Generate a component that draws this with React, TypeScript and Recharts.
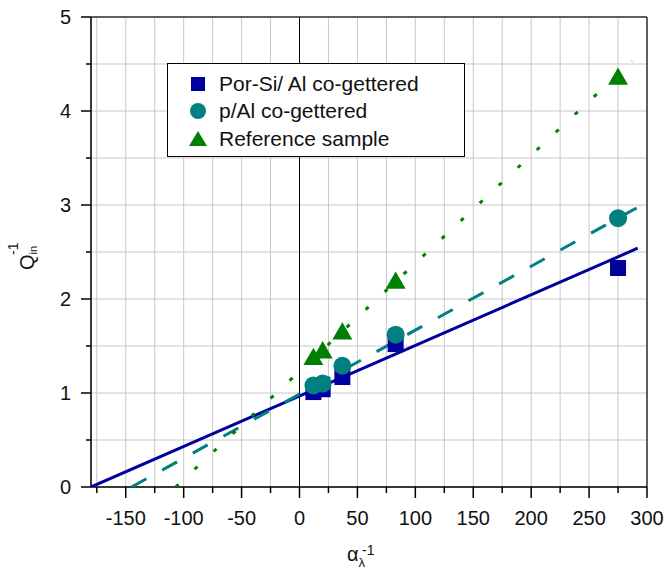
import React from "react";
import {
  ComposedChart,
  Scatter,
  XAxis,
  YAxis,
  CartesianGrid,
  ReferenceLine,
  Legend,
  Label,
} from "recharts";

const NAVY = "#00009c";
const TEAL = "#008080";
const GREEN = "#008000";
const FONT = "'Liberation Sans', Arial, sans-serif";

// inverse absorption length values (x) shared by all samples
const alphaInv = [12, 20, 37, 83, 275];
const porSiAl = [1.01, 1.04, 1.17, 1.52, 2.33];
const pAl = [1.08, 1.1, 1.29, 1.62, 2.86];
const reference = [1.36, 1.43, 1.63, 2.17, 4.34];

// linear fits, end points
const porSiFitX = [-180, 292];
const porSiFitY = [0, 2.54];
const pAlFitX = [-145, 300];
const pAlFitY = [0, 3.03];
const refFitX = [-107, 287];
const refFitY = [0, 4.53];

const xTicks = [
  -175, -150, -125, -100, -75, -50, -25, 0, 25, 50, 75, 100, 125, 150, 175, 200, 225, 250, 275, 300,
];
const yTicks = [0, 0.5, 1, 1.5, 2, 2.5, 3, 3.5, 4, 4.5, 5];

const pts = (xs: number[], ys: number[]) => ys.map((y, i) => ({ x: xs[i], y }));

function XTick({ x, y, payload }: any) {
  const major = payload.value % 50 === 0;
  return (
    <g>
      <line x1={x} y1={y} x2={x} y2={y + (major ? 11 : 6)} stroke="#000" strokeWidth={1.5} />
      {major && (
        <text x={x} y={y + 38} textAnchor="middle" fontSize={20} fontFamily={FONT} fill="#111">
          {payload.value}
        </text>
      )}
    </g>
  );
}

function YTick({ x, y, payload }: any) {
  const major = Number.isInteger(payload.value);
  return (
    <g>
      <line x1={x} y1={y} x2={x - (major ? 10 : 5)} y2={y} stroke="#000" strokeWidth={1.5} />
      {major && (
        <text x={x - 20} y={y + 7} textAnchor="end" fontSize={20} fontFamily={FONT} fill="#111">
          {payload.value}
        </text>
      )}
    </g>
  );
}

// axis titles: one text each, with stacked sub- and superscripts
function XTitle() {
  return (
    <text x={347} y={561} fontFamily={FONT} fill="#111" fontSize={20}>
      α
      <tspan fontSize={13} dy={6}>λ</tspan>
      <tspan fontSize={14} dx={-3} dy={-12}>-1</tspan>
    </text>
  );
}

function YTitle() {
  return (
    <text
      x={0}
      y={0}
      fontFamily={FONT}
      fill="#111"
      fontSize={20}
      transform="translate(34,270) rotate(-90)"
    >
      Q
      <tspan fontSize={11} dy={3}>in</tspan>
      <tspan fontSize={14} dx={-9} dy={-19}>-1</tspan>
    </text>
  );
}

const Square = ({ cx, cy }: any) => <rect x={cx - 8} y={cy - 8} width={16} height={16} fill={NAVY} />;
const Dot = ({ cx, cy }: any) => <circle cx={cx} cy={cy} r={9} fill={TEAL} />;
const Tri = ({ cx, cy }: any) => (
  <polygon points={`${cx},${cy - 11.5} ${cx + 10},${cy + 5.8} ${cx - 10},${cy + 5.8}`} fill={GREEN} />
);
const Nothing = () => <g />;

const legendItems = [
  { name: "Por-Si/ Al co-gettered", marker: <rect x={2} y={2} width={14} height={14} fill={NAVY} /> },
  { name: "p/Al co-gettered", marker: <circle cx={9} cy={9} r={8} fill={TEAL} /> },
  { name: "Reference sample", marker: <polygon points="9,1 18,16 0,16" fill={GREEN} /> },
];

function LegendBox() {
  return (
    <div
      style={{
        width: 298,
        height: 94,
        border: "1px solid #000",
        background: "#fff",
        fontFamily: FONT,
        fontSize: 21,
        color: "#111",
        paddingTop: 6,
        boxSizing: "border-box",
      }}
    >
      {legendItems.map((it) => (
        <div key={it.name} style={{ display: "flex", alignItems: "center", height: 27.5 }}>
          <svg width={18} height={18} style={{ marginLeft: 21, marginRight: 12 }}>
            {it.marker}
          </svg>
          <span>{it.name}</span>
        </div>
      ))}
    </div>
  );
}

export default function App() {
  return (
    <div style={{ position: "absolute", left: 0, top: 0, background: "#fff" }}>
      <ComposedChart width={667} height={570} margin={{ top: 17, right: 20, bottom: 43, left: 0 }}>
        <CartesianGrid stroke="#c8c8c8" strokeWidth={1} />
        <XAxis
          type="number"
          dataKey="x"
          domain={[-180, 300]}
          ticks={xTicks}
          interval={0}
          allowDataOverflow
          height={40}
          tickSize={0}
          tickMargin={0}
          tick={<XTick />}
          axisLine={{ stroke: "#000", strokeWidth: 1.5 }}
        >
          <Label content={<XTitle />} />
        </XAxis>
        <YAxis
          type="number"
          dataKey="y"
          domain={[0, 5]}
          ticks={yTicks}
          interval={0}
          allowDataOverflow
          width={91}
          tickSize={0}
          tickMargin={0}
          tick={<YTick />}
          axisLine={{ stroke: "#000", strokeWidth: 1.5 }}
        >
          <Label content={<YTitle />} />
        </YAxis>
        <ReferenceLine x={0} stroke="#000" strokeWidth={1} />
        <ReferenceLine x={300} stroke="#333" strokeWidth={1.5} />
        <ReferenceLine y={5} stroke="#333" strokeWidth={1.5} />
        <Legend
          layout="vertical"
          align="center"
          verticalAlign="middle"
          content={<LegendBox />}
          wrapperStyle={{ position: "absolute", left: 167, top: 63, width: 298 }}
        />

        <Scatter
          data={pts(porSiFitX, porSiFitY)}
          line={{ stroke: NAVY, strokeWidth: 3 }}
          shape={<Nothing />}
          legendType="none"
          isAnimationActive={false}
        />
        <Scatter
          data={pts(pAlFitX, pAlFitY)}
          line={{ stroke: TEAL, strokeWidth: 3, strokeDasharray: "17 18" }}
          shape={<Nothing />}
          legendType="none"
          isAnimationActive={false}
        />
        <Scatter
          data={pts(refFitX, refFitY)}
          line={{ stroke: GREEN, strokeWidth: 3, strokeDasharray: "4 22" }}
          shape={<Nothing />}
          legendType="none"
          isAnimationActive={false}
        />

        <Scatter name="Por-Si/ Al co-gettered" data={pts(alphaInv, porSiAl)} shape={<Square />} isAnimationActive={false} />
        <Scatter name="p/Al co-gettered" data={pts(alphaInv, pAl)} shape={<Dot />} isAnimationActive={false} />
        <Scatter name="Reference sample" data={pts(alphaInv, reference)} shape={<Tri />} isAnimationActive={false} />
      </ComposedChart>
    </div>
  );
}
